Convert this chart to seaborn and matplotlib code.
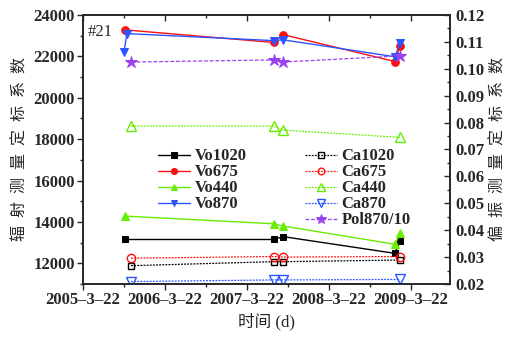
import matplotlib
matplotlib.use("Agg")
import matplotlib.pyplot as plt
import matplotlib.dates as mdates
from matplotlib.ticker import MultipleLocator, FuncFormatter, NullFormatter
import seaborn as sns
import pandas as pd

# ---- data ----
vo_dates = ["2005-09-25", "2007-07-21", "2007-08-30", "2009-01-10", "2009-02-01"]
vo870_dates = ["2005-09-20", "2005-10-04", "2007-07-21", "2007-08-30", "2009-01-10", "2009-02-01"]
ca_dates = ["2005-10-22", "2007-07-19", "2007-08-30", "2009-02-01"]

vo1020 = [13150, 13150, 13290, 12480, 13080]
vo675 = [23280, 22670, 23050, 21750, 22520]
vo440 = [14280, 13910, 13800, 12920, 13480]
vo870 = [22200, 23100, 22760, 22800, 21980, 22660]

ca1020 = [0.0268, 0.0283, 0.0283, 0.0289]
ca675 = [0.0296, 0.0302, 0.0300, 0.0302]
ca440 = [0.0787, 0.0787, 0.0772, 0.0745]
ca870 = [0.0209, 0.0215, 0.0215, 0.0217]
pol870_10 = [0.1025, 0.1033, 0.1025, 0.1048]

sns.set_style("ticks")
plt.rcParams["font.family"] = ["Liberation Serif", "Noto Sans CJK SC"]
plt.rcParams["font.weight"] = "bold"

BLACK = "#000000"
RED = "#ff1010"
GREEN = "#66ee00"
BLUE = "#2a55ff"
PURPLE = "#9a40f0"

fig = plt.figure(figsize=(5.27, 3.38), dpi=100)
ax = fig.add_axes([0.1575, 0.1598, 0.6964, 0.7959])
ax2 = ax.twinx()

def td(lst):
    return pd.to_datetime(pd.Series(lst))

ms = 5
vo_specs = [
    ("Vo1020", vo_dates, vo1020, BLACK, "s", ms),
    ("Vo675", vo_dates, vo675, RED, "o", ms + 0.5),
    ("Vo440", vo_dates, vo440, GREEN, "^", ms + 1),
    ("Vo870", vo870_dates, vo870, BLUE, "v", ms + 1),
]
for name, d, v, c, m, s in vo_specs:
    sns.lineplot(x=td(d), y=v, ax=ax, color=c, marker=m, markersize=s,
                 markeredgecolor=c, markerfacecolor=c, linewidth=1.0,
                 linestyle="-", label=name, sort=False, estimator=None)

ca_specs = [
    ("Ca1020", ca_dates, ca1020, BLACK, "s", ms),
    ("Ca675", ca_dates, ca675, RED, "o", ms + 1),
    ("Ca440", ca_dates, ca440, GREEN, "^", ms + 1.5),
    ("Ca870", ca_dates, ca870, BLUE, "v", ms + 1.5),
]
for name, d, v, c, m, s in ca_specs:
    sns.lineplot(x=td(d), y=v, ax=ax2, color=c, marker=m, markersize=s,
                 markeredgecolor=c, markerfacecolor="none", markeredgewidth=1.0,
                 linewidth=0.9, dashes=(1.5, 1.0), label=name, sort=False, estimator=None)
sns.lineplot(x=td(ca_dates), y=pol870_10, ax=ax2, color=PURPLE, marker="*",
             markersize=ms + 4, markeredgecolor=PURPLE, markerfacecolor=PURPLE,
             linewidth=0.9, dashes=(3, 1.5), label="Pol870/10", sort=False, estimator=None)

# axes limits
ax.set_ylim(11000, 24000)
ax2.set_ylim(0.02, 0.12)

date_fmt = FuncFormatter(
    lambda v, p: (lambda d: f"{d.year}\u2013{d.month}\u2013{d.day}")(mdates.num2date(v)))
for a in (ax, ax2):
    a.xaxis.set_major_locator(mdates.YearLocator(base=1, month=3, day=22))
    a.xaxis.set_minor_locator(mdates.MonthLocator(bymonth=9, bymonthday=21))
    a.xaxis.set_major_formatter(date_fmt)
    a.xaxis.set_minor_formatter(NullFormatter())
    a.xaxis.offsetText.set_visible(False)
ax.set_xlim(pd.Timestamp("2005-03-22"), pd.Timestamp("2009-09-12"))
ax.yaxis.set_major_locator(MultipleLocator(2000))
ax.yaxis.set_minor_locator(MultipleLocator(1000))
ax2.yaxis.set_major_locator(MultipleLocator(0.01))
ax2.yaxis.set_minor_locator(MultipleLocator(0.005))
ax2.yaxis.set_major_formatter(FuncFormatter(lambda v, p: f"{v:.2f}"))

fs = 12
ax.tick_params(axis="x", which="both", direction="out", bottom=True, top=False,
               labelsize=fs, pad=2)
ax.tick_params(axis="x", which="major", length=4, width=1.0)
ax.tick_params(axis="x", which="minor", length=2.5, width=1.0)
ax.tick_params(axis="y", which="both", direction="out", left=True, labelsize=fs, pad=2)
ax.tick_params(axis="y", which="major", length=4, width=1.0)
ax.tick_params(axis="y", which="minor", length=2.5, width=1.0)

ax2.xaxis.set_visible(True)
ax2.tick_params(axis="x", which="both", direction="in", bottom=False, top=True,
                labelbottom=False, labeltop=False)
ax2.tick_params(axis="x", which="major", length=4, width=1.0)
ax2.tick_params(axis="x", which="minor", length=2.5, width=1.0)
ax2.tick_params(axis="y", which="both", direction="in", right=True, labelsize=fs, pad=4)
ax2.tick_params(axis="y", which="major", length=4, width=1.0)
ax2.tick_params(axis="y", which="minor", length=2.5, width=1.0)
ax2.set_xlabel("")

for a in (ax, ax2):
    for s in a.spines.values():
        s.set_linewidth(1.2)
        s.set_visible(True)
    for lab in a.get_xticklabels() + a.get_yticklabels():
        lab.set_fontweight("bold")

ax.set_xlabel("时间 (d)", fontsize=fs, fontweight="normal", labelpad=3)
ax.set_ylabel("辐  射  测  量  定  标  系  数", fontsize=11.5, labelpad=3)
ax2.set_ylabel("偏  振  测  量  定  标  系  数", fontsize=11.5, labelpad=4)

ax.text(0.012, 0.965, "#21", transform=ax.transAxes, fontsize=fs, fontweight="normal",
        ha="left", va="top")

leg1 = ax.legend(loc="upper left", bbox_to_anchor=(0.20, 0.51), frameon=False,
                 fontsize=fs, handlelength=1.9, handletextpad=0.3, labelspacing=0.0,
                 borderpad=0.1, borderaxespad=0, markerscale=0.8)
leg2 = ax2.legend(loc="upper left", bbox_to_anchor=(0.60, 0.51), frameon=False,
                  fontsize=fs, handlelength=1.9, handletextpad=0.3, labelspacing=0.0,
                  borderpad=0.1, borderaxespad=0, markerscale=0.8)
for lg in (leg1, leg2):
    for t in lg.get_texts():
        t.set_fontweight("bold")

fig.savefig("out.png", dpi=100)
